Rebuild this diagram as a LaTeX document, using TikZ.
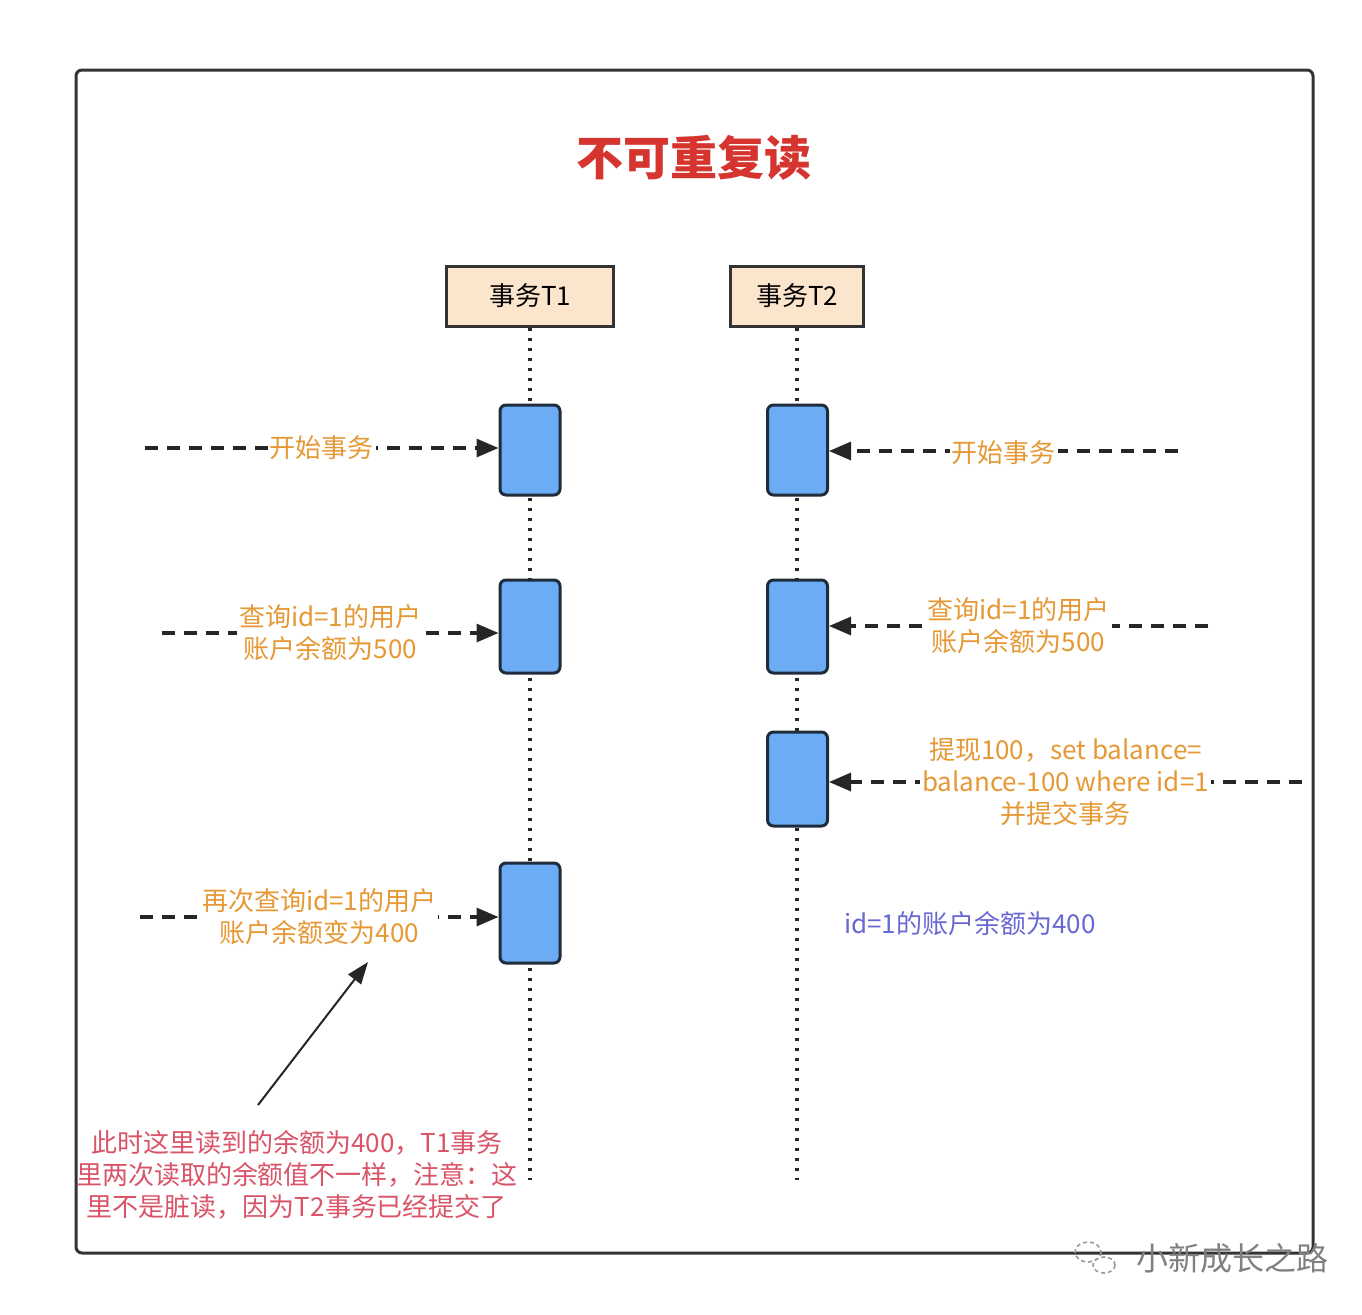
\documentclass[tikz,border=0pt]{standalone}
\usepackage{fontspec}
\setmainfont{Noto Sans CJK SC}
\usetikzlibrary{arrows.meta,positioning}
\definecolor{lblorange}{RGB}{230,152,52}
\definecolor{titlered}{RGB}{214,52,46}
\definecolor{notered}{RGB}{218,84,104}
\definecolor{balblue}{RGB}{104,104,212}
\definecolor{boxblue}{RGB}{108,172,245}
\definecolor{boxline}{RGB}{30,44,60}
\definecolor{headfill}{RGB}{252,229,205}
\tikzset{
  frame/.style={draw=black!80, line width=1.5pt, rounded corners=3pt},
  head/.style={draw=black!80, fill=headfill, line width=1.5pt, minimum height=30pt, inner sep=0pt, font=\fontsize{13}{16}\selectfont},
  lifeline/.style={draw=black!85, line width=1.8pt, dash pattern=on 1.6pt off 3.4pt},
  actbox/.style={draw=boxline, fill=boxblue, line width=1.5pt, rounded corners=3pt, minimum width=30pt, inner sep=0pt},
  msg/.style={draw=black!85, line width=1.6pt, dash pattern=on 6.5pt off 4.5pt, -{Triangle[length=11pt,width=9pt]}},
  msglabel/.style={fill=white, inner sep=1pt, text=lblorange, align=center, font=\fontsize{13}{16}\selectfont},
  point/.style={draw=black!85, line width=1pt, -{Triangle[length=11pt,width=8pt]}},
}
\begin{document}
\begin{tikzpicture}[x=0.5pt,y=-0.5pt]
    \useasboundingbox[fill=white] (0,0) rectangle (1362,1314);
    \draw[frame] (76,70) rectangle (1313,1253);
    \node[text=titlered, font=\fontsize{23.5}{28}\selectfont\bfseries] (title) at (694,158) {不可重复读};
    % transactions
    \node[head, minimum width=83.5pt] (t1) at (530,296) {事务T1};
    \node[head, minimum width=66.5pt] (t2) at (797,296) {事务T2};
    \coordinate (t1end) at (530,1180);
    \coordinate (t2end) at (797,1180);
    \draw[lifeline] (t1.south) -- (t1end);
    \draw[lifeline] (t2.south) -- (t2end);
    \foreach \n/\y/\h in {1/450/45pt, 2/626.5/46.5pt, 3/913/50pt} {
      \node[actbox, minimum height=\h] (a\n) at (530,\y) {};
    }
    \foreach \n/\y/\h in {1/450/45pt, 2/626.5/46.5pt, 3/779/47pt} {
      \node[actbox, minimum height=\h] (b\n) at (797.5,\y) {};
    }
    % messages
    \coordinate (s1) at (145,448);
    \coordinate (s2) at (1178,451);
    \coordinate (s3) at (162,633);
    \coordinate (s4) at (1208,626);
    \coordinate (s5) at (1302,782);
    \coordinate (s6) at (140,917);
    \draw[msg] (s1) -- node[msglabel] (l1) {开始事务} (s1 -| a1.west);
    \draw[msg] (s2) -- node[msglabel, yshift=-1pt] (l2) {开始事务} (s2 -| b1.east);
    \draw[msg] (s3) -- node[msglabel] (l3) {查询id=1的用户\\账户余额为500} (s3 -| a2.west);
    \draw[msg] (s4) -- node[msglabel] (l4) {查询id=1的用户\\账户余额为500} (s4 -| b2.east);
    \draw[msg] (s5) -- node[msglabel] (l5) {提现100，set balance=\\balance-100 where id=1\\并提交事务} (s5 -| b3.east);
    \draw[msg] (s6) -- node[msglabel] (l6) {再次查询id=1的用户\\账户余额变为400} (s6 -| a3.west);
    \node[text=balblue, font=\fontsize{13}{16}\selectfont] (bal) at (970,924) {id=1的账户余额为400};
    % note
    \node[text=notered, align=center, font=\fontsize{13}{16}\selectfont] (note) at (297,1175)
      {此时这里读到的余额为400，T1事务\\里两次读取的余额值不一样，注意：这\\里不是脏读，因为T2事务已经提交了};
    \coordinate (nt) at (258,1105);
    \coordinate (nh) at (368,962);
    \draw[point] (nt) -- (nh);
    % watermark
    \draw[black!40, line width=0.8pt, dash pattern=on 2pt off 1.5pt] (1088,1252) ellipse (13 and 10) (1104,1265) ellipse (11 and 8);
    \node[text=black!50, font=\fontsize{16}{18}\selectfont] (mark) at (1232,1258) {小新成长之路};
\end{tikzpicture}
\end{document}
